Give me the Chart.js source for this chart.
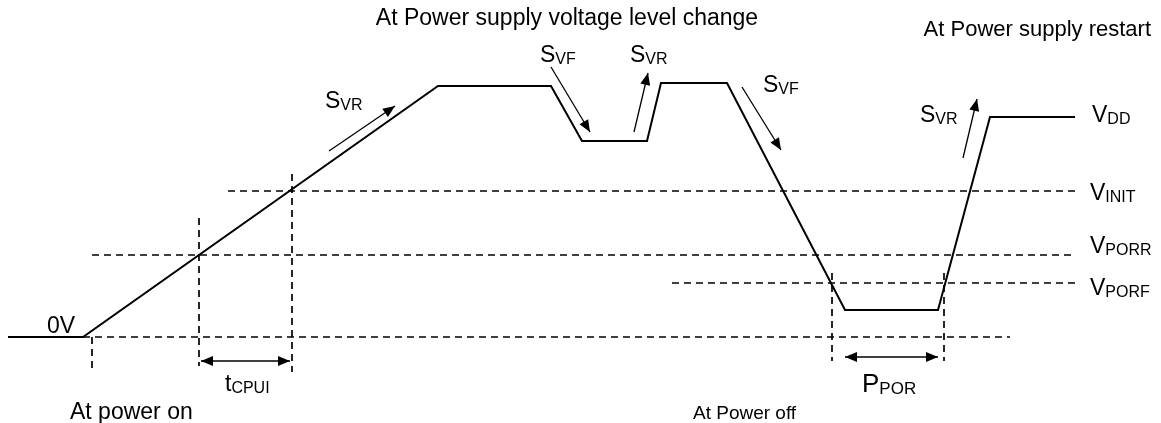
<!DOCTYPE html>
<html>
<head>
<meta charset="utf-8">
<script src="https://cdn.jsdelivr.net/npm/chart.js@4/dist/chart.umd.min.js"></script>
<style>
  html, body { margin: 0; padding: 0; background: #fff; }
  #diagram { display: block; }
</style>
</head>
<body>
<canvas id="diagram" width="1161" height="423"></canvas>
<script>
// ==========================
// DATA (x = time, y = drawn level, top = 0)
// ==========================
const waveT = [8, 83, 438, 551, 582, 647, 661, 727, 845, 938, 990, 1075];
const waveV = [337, 337, 86, 86, 141, 141, 83, 83, 310, 310, 117, 117];

// dashed threshold levels
const levelY = [191, 255, 283, 337];
const levelStart = [228, 92, 672, 83];
const levelEnd = [1075, 1075, 1075, 1010];

// dashed vertical markers
const markT = [92, 199, 292, 832, 944];
const markTop = [337, 218, 174, 273, 273];
const markBottom = [371, 366, 372, 361, 361];

// slope arrows: tail -> head
const slopeTailT = [329, 551, 634, 742, 963];
const slopeTailV = [151, 67, 132, 87, 158];
const slopeHeadT = [395, 590, 648, 781, 977];
const slopeHeadV = [106, 132, 73, 150, 99];

// interval arrows
const spanFrom = [201, 845];
const spanTo = [290, 938];
const spanV = [361, 357];

// text
const labels = [
    { main: 'S', sub: 'VR', t: 325, v: 108 },
    { main: 'S', sub: 'VF', t: 540, v: 62 },
    { main: 'S', sub: 'VR', t: 630, v: 62 },
    { main: 'S', sub: 'VF', t: 763, v: 92 },
    { main: 'S', sub: 'VR', t: 920, v: 122 },
    { main: 'V', sub: 'DD', t: 1092, v: 122 },
    { main: 'V', sub: 'INIT', t: 1090, v: 200 },
    { main: 'V', sub: 'PORR', t: 1090, v: 253 },
    { main: 'V', sub: 'PORF', t: 1090, v: 295 },
    { main: '0V', sub: '', t: 47, v: 333 },
    { main: 't', sub: 'CPUI', t: 225, v: 391 },
    { main: 'P', sub: 'POR', t: 862, v: 392, big: true }
];
const captions = [
    { text: 'At Power supply voltage level change', t: 567, v: 25, align: 'center', size: 23 },
    { text: 'At Power supply restart', t: 1151, v: 36, align: 'right', size: 22 },
    { text: 'At power on', t: 70, v: 419, align: 'left', size: 23 },
    { text: 'At Power off', t: 693, v: 419, align: 'left', size: 19 }
];

const FONT = '"Liberation Sans", Arial, sans-serif';

// ==========================
// DATASETS
// ==========================
const datasets = [];

datasets.push({
    data: waveT.map((t, i) => ({ x: t, y: waveV[i] })),
    borderColor: '#000',
    borderWidth: 2
});

levelY.forEach((y, i) => {
    datasets.push({
        data: [{ x: levelStart[i], y }, { x: levelEnd[i], y }],
        borderColor: '#000',
        borderWidth: 1.7,
        borderDash: [7, 5]
    });
});

markT.forEach((t, i) => {
    datasets.push({
        data: [{ x: t, y: markTop[i] }, { x: t, y: markBottom[i] }],
        borderColor: '#000',
        borderWidth: 1.7,
        borderDash: [7, 5]
    });
});

slopeTailT.forEach((t, i) => {
    datasets.push({
        data: [{ x: t, y: slopeTailV[i] }, { x: slopeHeadT[i], y: slopeHeadV[i] }],
        borderColor: '#000',
        borderWidth: 1.3,
        arrowEnd: true
    });
});

spanFrom.forEach((t, i) => {
    datasets.push({
        data: [{ x: t, y: spanV[i] }, { x: spanTo[i], y: spanV[i] }],
        borderColor: '#000',
        borderWidth: 1.6,
        arrowEnd: true,
        arrowStart: true
    });
});

// ==========================
// PLUGINS
// ==========================
function head(ctx, tip, from) {
    const a = Math.atan2(tip.y - from.y, tip.x - from.x);
    const len = 12, half = 5;
    const bx = tip.x - len * Math.cos(a), by = tip.y - len * Math.sin(a);
    ctx.beginPath();
    ctx.moveTo(tip.x, tip.y);
    ctx.lineTo(bx + half * Math.sin(a), by - half * Math.cos(a));
    ctx.lineTo(bx - half * Math.sin(a), by + half * Math.cos(a));
    ctx.closePath();
    ctx.fill();
}

const arrowPlugin = {
    id: 'arrows',
    afterDatasetsDraw(chart) {
        const ctx = chart.ctx;
        ctx.save();
        ctx.fillStyle = '#000';
        chart.data.datasets.forEach((ds, i) => {
            const pts = chart.getDatasetMeta(i).data;
            if (ds.arrowEnd) head(ctx, pts[pts.length - 1], pts[pts.length - 2]);
            if (ds.arrowStart) head(ctx, pts[0], pts[1]);
        });
        ctx.restore();
    }
};

const textPlugin = {
    id: 'texts',
    afterDraw(chart) {
        const ctx = chart.ctx;
        const xs = chart.scales.x, ys = chart.scales.y;
        ctx.save();
        ctx.fillStyle = '#000';
        ctx.textBaseline = 'alphabetic';

        labels.forEach(l => {
            const px = xs.getPixelForValue(l.t), py = ys.getPixelForValue(l.v);
            ctx.textAlign = 'left';
            ctx.font = (l.big ? 26 : 23) + 'px ' + FONT;
            ctx.fillText(l.main, px, py);
            const w = ctx.measureText(l.main).width;
            if (l.sub) {
                ctx.font = (l.big ? 17 : 16) + 'px ' + FONT;
                ctx.fillText(l.sub, px + w, py + 2);
            }
        });

        captions.forEach(c => {
            ctx.textAlign = c.align;
            ctx.font = c.size + 'px ' + FONT;
            ctx.fillText(c.text, xs.getPixelForValue(c.t), ys.getPixelForValue(c.v));
        });
        ctx.restore();
    }
};

// ==========================
// CHART
// ==========================
new Chart(document.getElementById('diagram'), {
    type: 'scatter',
    data: { datasets },
    options: {
        responsive: false,
        animation: false,
        showLine: true,
        elements: {
            point: { radius: 0, hoverRadius: 0 },
            line: { tension: 0, fill: false, borderCapStyle: 'butt' }
        },
        layout: { padding: 0 },
        plugins: {
            legend: { display: false },
            tooltip: { enabled: false }
        },
        scales: {
            x: { type: 'linear', min: 0, max: 1161, display: false },
            y: { type: 'linear', min: 0, max: 423, reverse: true, display: false }
        }
    },
    plugins: [arrowPlugin, textPlugin]
});
</script>
</body>
</html>
